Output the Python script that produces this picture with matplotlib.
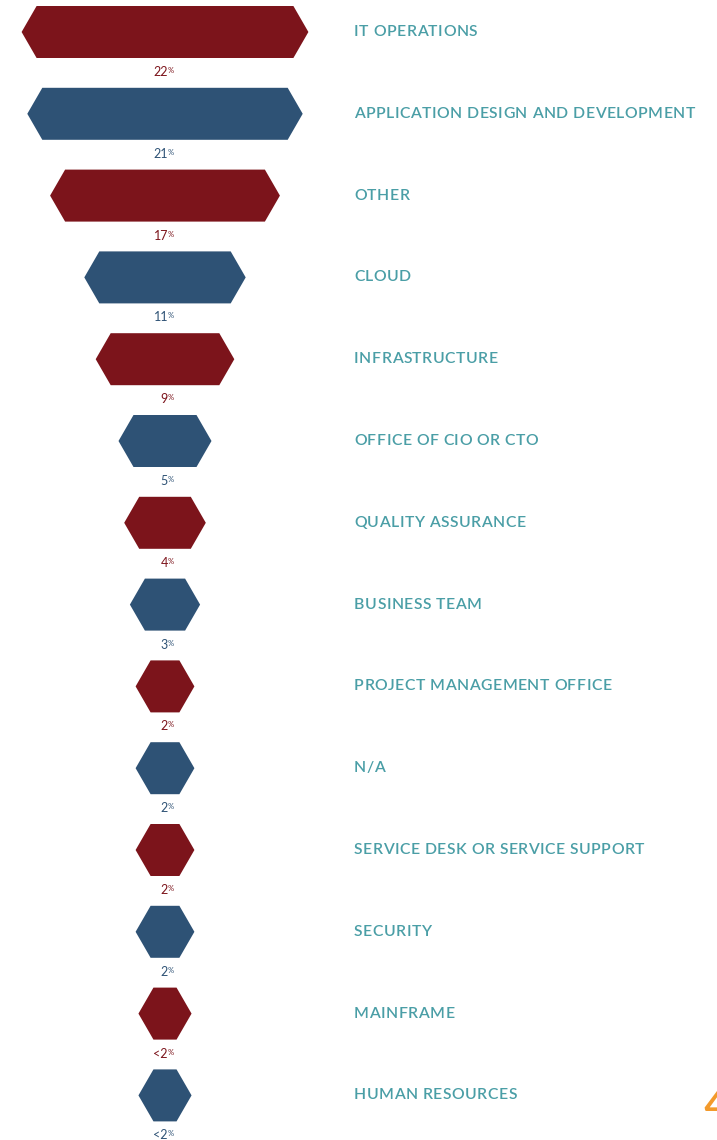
import matplotlib.pyplot as plt
from matplotlib.patches import Polygon

categories = ['IT OPERATIONS', 'APPLICATION DESIGN AND DEVELOPMENT', 'OTHER', 'CLOUD',
              'INFRASTRUCTURE', 'OFFICE OF CIO OR CTO', 'QUALITY ASSURANCE', 'BUSINESS TEAM',
              'PROJECT MANAGEMENT OFFICE', 'N/A', 'SERVICE DESK OR SERVICE SUPPORT',
              'SECURITY', 'MAINFRAME', 'HUMAN RESOURCES']
values = [22, 21, 17, 11, 9, 5, 4, 3, 2, 2, 2, 2, 1.5, 1.5]
value_labels = ['22', '21', '17', '11', '9', '5', '4', '3', '2', '2', '2', '2', '<2', '<2']

RED = '#7c141b'
BLUE = '#2e5275'
TEAL = '#4a9ea6'
colors = [RED if i % 2 == 0 else BLUE for i in range(len(values))]

W, H = 717, 1140
fig = plt.figure(figsize=(W / 100, H / 100), dpi=100)
ax = fig.add_axes([0, 0, 1, 1])
ax.set_xlim(0, W)
ax.set_ylim(H, 0)
ax.axis('off')
renderer = fig.canvas.get_renderer()


def spaced_text(x, y, s, spacing, **kw):
    # matplotlib has no letter-spacing, so place the letters one by one
    for ch in s:
        t = ax.text(x, y, ch, ha='left', va='center', **kw)
        w = t.get_window_extent(renderer).width
        x += w + spacing


cx = 165          # hexagon centre
row0, step = 32, 81.8
half_h, inset = 26, 15
base_w, px_per_pct = 36, 11.4

for i, (cat, v, lab, c) in enumerate(zip(categories, values, value_labels, colors)):
    y = row0 + i * step
    hw = (base_w + px_per_pct * v) / 2
    pts = [(cx - hw, y), (cx - hw + inset, y - half_h), (cx + hw - inset, y - half_h),
           (cx + hw, y), (cx + hw - inset, y + half_h), (cx - hw + inset, y + half_h)]
    ax.add_patch(Polygon(pts, closed=True, facecolor=c, edgecolor='none'))
    # value label with small percent sign
    ax.text(cx + 3, y + 40, lab, color=c, fontsize=9, family='Lato',
            ha='right', va='center')
    ax.text(cx + 2.5, y + 38.5, '%', color=c, fontsize=5.5, family='Lato',
            ha='left', va='center')
    spaced_text(354, y, cat, 0.5, color=TEAL, fontsize=11.3, family='Lato',
                fontweight='semibold')

# page number fragment at the right edge
ax.text(703, 1121, '4', color='#f39a2c', fontsize=38, family='Lato',
        ha='left', va='baseline')

fig.savefig('out.png', dpi=100)
